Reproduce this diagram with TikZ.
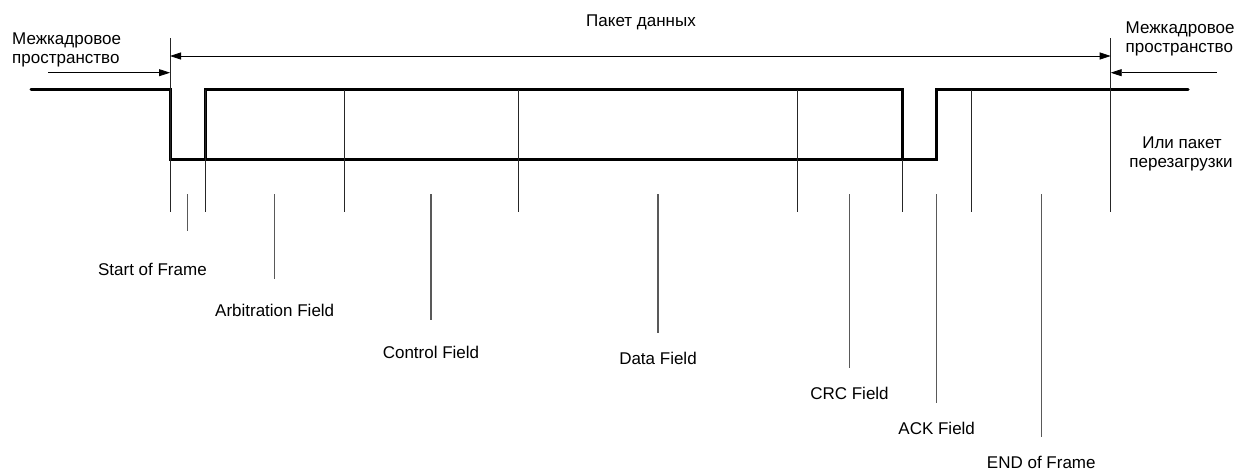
\documentclass[tikz,border=0pt]{standalone}
\usepackage{fontspec}
\setmainfont{Liberation Sans}
\usetikzlibrary{arrows.meta}
\begin{document}
\begin{tikzpicture}[x=1pt,y=-1pt,
  sig/.style={line width=3pt, line join=miter, line cap=round},
  bound/.style={line width=1pt, black!85},
  ptr/.style={line width=1.2pt, black!65},
  dimarrow/.style={line width=0.8pt, -{Triangle[length=11pt,width=7pt]}},
  dimboth/.style={line width=0.8pt, {Triangle[length=11pt,width=7pt]}-{Triangle[length=11pt,width=7pt]}},
  lbl/.style={font=\fontsize{17}{20}\selectfont, inner sep=0pt, anchor=base}]
\useasboundingbox (0,0) rectangle (1237,471);

% levels
\def\hi{89.5}
\def\lo{159.5}

% signal
\draw[sig] (31,\hi) -- (170,\hi) -- (170,\lo) -- (936,\lo) -- (936,\hi) -- (1188,\hi);
\draw[sig] (205.5,\lo) -- (205.5,\hi) -- (902,\hi) -- (902,\lo);

% boundary coordinates
\coordinate (b1t) at (170,38);     \coordinate (b1b) at (170,211.5);
\coordinate (b2t) at (205.5,\hi);  \coordinate (b2b) at (205.5,211.5);
\coordinate (b3t) at (344.7,\hi);  \coordinate (b3b) at (344.7,211.5);
\coordinate (b4t) at (518.6,\hi);  \coordinate (b4b) at (518.6,211.5);
\coordinate (b5t) at (797.3,\hi);  \coordinate (b5b) at (797.3,211.5);
\coordinate (b6t) at (902,\lo);    \coordinate (b6b) at (902,211.5);
\coordinate (b7t) at (971.7,\hi);  \coordinate (b7b) at (971.7,211.5);
\coordinate (b8t) at (1110.7,38);  \coordinate (b8b) at (1110.7,211.5);
\foreach \i in {1,...,8} \draw[bound] (b\i t) -- (b\i b);

% dimension arrows
\coordinate (pl) at (170,56);   \coordinate (pr) at (1110.7,56);
\draw[dimboth] (pl) -- (pr);
\coordinate (al0) at (48,72.7);   \coordinate (al1) at (170,72.7);
\draw[dimarrow] (al0) -- (al1);
\coordinate (ar0) at (1216.5,72.7); \coordinate (ar1) at (1110.7,72.7);
\draw[dimarrow] (ar0) -- (ar1);

% top texts
\node[lbl] (pkt) at (641,26.7) {Пакет данных};
\node[lbl, anchor=base west] (ml1) at (12,44) {Межкадровое};
\node[lbl, anchor=base west] (ml2) at (12,63) {пространство};
\node[lbl, anchor=base west] (mr1) at (1125.5,33) {Межкадровое};
\node[lbl, anchor=base west] (mr2) at (1125.5,52.7) {пространство};
\node[lbl] (or1) at (1182,148) {Или пакет};
\node[lbl] (or2) at (1181,167) {перезагрузки};

% pointers and field labels
\foreach \n/\x/\e/\lx/\b/\t in {
  sof/187.7/231.4/152.4/275.6/Start of Frame,
  arb/274.7/278.8/274.7/316.4/Arbitration Field,
  ctl/431/320/431/358.7/Control Field,
  dat/658/333.3/658/364.3/Data Field,
  crc/849.5/367.7/849.5/399/CRC Field,
  ack/936.7/402.7/936.7/434.3/ACK Field,
  eof/1041.3/437.3/1041.3/468.7/END of Frame}
{
  \coordinate (\n t) at (\x,194);
  \coordinate (\n b) at (\x,\e);
  \draw[ptr] (\n t) -- (\n b);
  \node[lbl] (\n l) at (\lx,\b) {\t};
}
\end{tikzpicture}
\end{document}
